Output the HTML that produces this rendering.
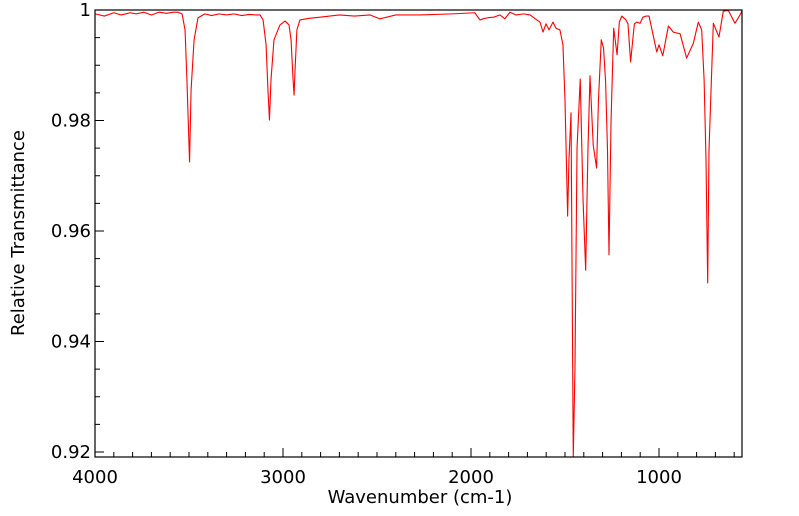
<!DOCTYPE html>
<html><head><meta charset="utf-8"><style>
html,body{margin:0;padding:0;background:#fff;overflow:hidden;width:799px;height:516px;}
svg{display:block;font-family:"DejaVu Sans","Liberation Sans",sans-serif;}
</style></head><body>
<svg id="chart" width="799" height="516" viewBox="0 0 799 516" xmlns="http://www.w3.org/2000/svg">
<defs><clipPath id="clip"><rect x="95" y="10" width="647" height="447"/></clipPath></defs>
<rect x="95" y="10" width="647" height="447" fill="#fff"/>
<g id="ticks"></g>
<path id="spectrum" clip-path="url(#clip)" fill="none" stroke="#ff0000" stroke-width="1.1" stroke-linejoin="round"/>
<rect x="95" y="10" width="647" height="447" fill="none" stroke="#000" stroke-width="1.2"/>
<text x="420" y="503" text-anchor="middle" font-size="18">Wavenumber (cm-1)</text>
<text transform="translate(24,233) rotate(-90)" text-anchor="middle" font-size="18">Relative Transmittance</text>
</svg>
<script>
const wavenumbers = [4000,3950,3900,3860,3814,3780,3740,3700,3660,3620,3580,3559,3537,3521,3511,3497,3489,3473,3452,3415,3380,3340,3300,3260,3220,3180,3140,3122,3106,3090,3080,3072,3064,3048,3016,2989,2968,2957,2947,2941,2936,2926,2910,2860,2803,2700,2620,2537,2484,2400,2271,2100,1980,1952,1936,1910,1880,1846,1820,1793,1760,1720,1686,1633,1617,1601,1585,1564,1548,1527,1511,1500,1486,1479,1468,1456,1447,1436,1419,1404,1390,1378,1367,1350,1332,1322,1307,1295,1284,1274,1266,1255,1241,1223,1211,1198,1176,1165,1151,1131,1119,1101,1085,1069,1053,1039,1012,1000,980,950,924,888,853,817,791,773,760,750,741,734,725,711,681,658,631,596,569,559];
const transmittance = [0.9993,0.9989,0.9995,0.9991,0.9995,0.9993,0.9996,0.9991,0.9996,0.9994,0.9996,0.9996,0.9993,0.9964,0.9873,0.9725,0.9855,0.9946,0.9986,0.9993,0.9990,0.9993,0.9991,0.9993,0.9990,0.9992,0.9991,0.9991,0.9982,0.9937,0.9855,0.9801,0.9873,0.9946,0.9973,0.9980,0.9973,0.9946,0.9877,0.9846,0.9891,0.9964,0.9982,0.9985,0.9987,0.9991,0.9989,0.9991,0.9984,0.9991,0.9991,0.9993,0.9995,0.9982,0.9984,0.9986,0.9987,0.9991,0.9984,0.9996,0.9991,0.9993,0.9991,0.9978,0.9960,0.9975,0.9964,0.9978,0.9967,0.9964,0.9937,0.9837,0.9627,0.9729,0.9814,0.9185,0.9350,0.9750,0.9875,0.9656,0.9529,0.9746,0.9881,0.9756,0.9714,0.9837,0.9946,0.9931,0.9870,0.9747,0.9557,0.9801,0.9967,0.9919,0.9978,0.9989,0.9982,0.9975,0.9906,0.9975,0.9978,0.9976,0.9987,0.9989,0.9989,0.9967,0.9924,0.9937,0.9917,0.9971,0.9960,0.9957,0.9913,0.9940,0.9978,0.9964,0.9873,0.9729,0.9506,0.9747,0.9837,0.9976,0.9951,0.9998,0.9999,0.9976,0.9991,0.9998];
const xTickValues = [4000,3000,2000,1000];
const xTickLabels = ["4000","3000","2000","1000"];
const yTickValues = [1,0.98,0.96,0.94,0.92];
const yTickLabels = ["1","0.98","0.96","0.94","0.92"];

const X0=95, X1=742, Y0=10, Y1=457;
const WN_MAX=4000, WN_MIN=4000-(X1-X0)/0.188;
const T_TOP=1, T_PER_PX=1/5525;
function xScale(w){return X0+(WN_MAX-w)/(WN_MAX-WN_MIN)*(X1-X0);}
function yScale(t){return Y0+(T_TOP-t)/T_PER_PX;}

const svg=document.getElementById('chart');
const NS='http://www.w3.org/2000/svg';
let d='';
for(let i=0;i<wavenumbers.length;i++){
  d+=(i?'L':'M')+xScale(wavenumbers[i]).toFixed(2)+','+Math.min(Y1,yScale(transmittance[i])).toFixed(2);
}
document.getElementById('spectrum').setAttribute('d',d);

const tg=document.getElementById('ticks');
function line(x1,y1,x2,y2){
  const l=document.createElementNS(NS,'line');
  l.setAttribute('x1',x1);l.setAttribute('y1',y1);l.setAttribute('x2',x2);l.setAttribute('y2',y2);
  l.setAttribute('stroke','#000');l.setAttribute('stroke-width','1');
  
  
  tg.appendChild(l);
}
for(let w=4000;w>=WN_MIN;w-=100){
  const x=xScale(w);
  line(x,Y1,x,Y1-(w%1000===0?9:5));
}
for(let k=0;k<=16;k++){
  const t=1-k*0.005;
  if(t<0.9191) break;
  const y=yScale(t);
  line(X0,y,X0+(k%4===0?9:5),y);
}
xTickValues.forEach((v,i)=>{
  const t=document.createElementNS(NS,'text');
  t.setAttribute('x',xScale(v));t.setAttribute('y',483);
  t.setAttribute('text-anchor','middle');t.setAttribute('font-size','18');
  t.textContent=xTickLabels[i];
  
  
  svg.appendChild(t);
});
yTickValues.forEach((v,i)=>{
  const t=document.createElementNS(NS,'text');
  t.setAttribute('x',91);t.setAttribute('y',yScale(v)+6);
  t.setAttribute('text-anchor','end');t.setAttribute('font-size','18');
  t.textContent=yTickLabels[i];
  
  
  svg.appendChild(t);
});
</script>
</body></html>
